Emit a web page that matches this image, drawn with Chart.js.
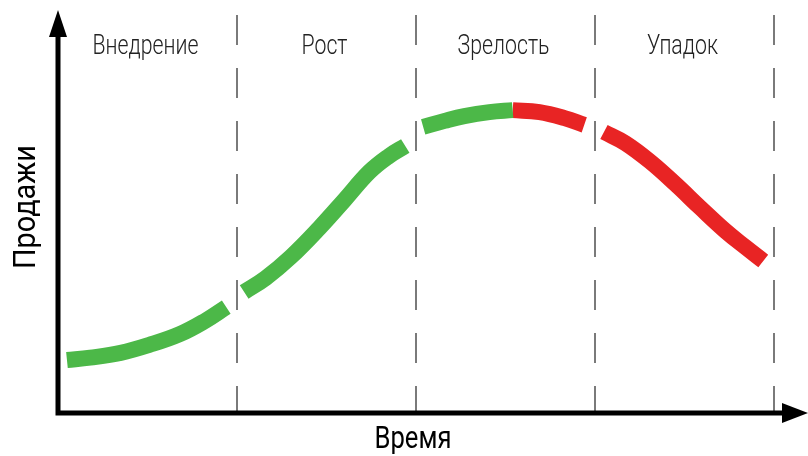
<!DOCTYPE html>
<html lang="ru">
<head>
<meta charset="UTF-8">
<title>Жизненный цикл товара</title>
<script src="https://cdn.jsdelivr.net/npm/chart.js@4.4.0/dist/chart.umd.min.js"></script>
<style>
  html, body { margin: 0; padding: 0; background: #fff; }
  #wrap { width: 808px; height: 456px; }
</style>
</head>
<body>
<div id="wrap"><canvas id="lifeChart"></canvas></div>
<script>
// этапы жизненного цикла (ось X в единицах этапов: 0..4)
const stages = ['Внедрение', 'Рост', 'Зрелость', 'Упадок'];
const stageBounds = [1, 2, 3, 4];

// кривая продаж, разбита на куски в местах пунктирных линий
const growthPart1 = [[0.05, 13.3], [0.18, 13.9], [0.35, 15.1], [0.51, 17.1], [0.68, 19.8], [0.82, 23.1], [0.94, 26.6]];
const growthPart2 = [[1.04, 30.4], [1.16, 33.9], [1.30, 39.2], [1.46, 46.5], [1.60, 53.5], [1.74, 60.6], [1.85, 64.6], [1.94, 67.1]];
const growthPart3 = [[2.04, 71.9], [2.16, 73.4], [2.27, 74.6], [2.41, 75.6], [2.54, 76.1]];
const declinePart1 = [[2.54, 76.1], [2.69, 75.6], [2.83, 74.1], [2.94, 72.4]];
const declinePart2 = [[3.05, 70.6], [3.17, 67.8], [3.31, 63.1], [3.45, 57.5], [3.59, 51.5], [3.73, 45.7], [3.84, 41.7], [3.94, 38.2]];

const xTitle = 'Время';
const yTitle = 'Продажи';

const GREEN = 'rgb(76, 184, 72)';
const RED = 'rgb(232, 36, 36)';
const FONT = 'Roboto, "Noto Sans", sans-serif';

function toPoints(arr) {
    return arr.map(p => ({ x: p[0], y: p[1] }));
}

function seg(arr, color) {
    return {
        data: toPoints(arr),
        borderColor: color,
        borderWidth: 16,
        borderCapStyle: 'butt',
        pointRadius: 0,
        showLine: true,
        fill: false,
        tension: 0.4
    };
}

// узкий текст: рисуем с горизонтальным сжатием
function narrowText(ctx, text, x, y, font, squeeze) {
    ctx.save();
    ctx.font = font;
    ctx.translate(x, y);
    ctx.scale(squeeze, 1);
    ctx.fillText(text, 0, 0);
    ctx.restore();
}

// пунктир, подписи этапов, оси со стрелками
const lifeCyclePlugin = {
    id: 'lifeCycle',
    beforeDatasetsDraw(chart) {
        const ctx = chart.ctx;
        const xs = chart.scales.x;
        const top = chart.chartArea.top;
        const bottom = chart.chartArea.bottom;
        ctx.save();
        ctx.strokeStyle = '#7a7a7a';
        ctx.lineWidth = 2;
        ctx.setLineDash([30, 23]);
        stageBounds.forEach(b => {
            const px = Math.round(xs.getPixelForValue(b));
            ctx.beginPath();
            ctx.moveTo(px, top);
            ctx.lineTo(px, bottom);
            ctx.stroke();
        });
        ctx.restore();
    },
    afterDraw(chart) {
        const ctx = chart.ctx;
        const xs = chart.scales.x;
        const area = chart.chartArea;
        const x0 = area.left;
        const y0 = area.bottom;
        ctx.save();

        // подписи этапов
        ctx.fillStyle = '#222';
        ctx.textAlign = 'center';
        ctx.textBaseline = 'middle';
        stages.forEach((s, i) => {
            narrowText(ctx, s, xs.getPixelForValue(i + 0.5) - 2, 47, '300 28px ' + FONT, 0.76);
        });

        // оси
        ctx.strokeStyle = '#000';
        ctx.fillStyle = '#000';
        ctx.lineWidth = 5;
        ctx.setLineDash([]);
        ctx.beginPath();
        ctx.moveTo(x0, y0 + 2.5);
        ctx.lineTo(x0, 30);
        ctx.moveTo(x0 - 2.5, y0);
        ctx.lineTo(790, y0);
        ctx.stroke();

        // стрелки
        ctx.beginPath();
        ctx.moveTo(x0, 10);
        ctx.lineTo(x0 - 9, 37);
        ctx.lineTo(x0 + 9, 37);
        ctx.closePath();
        ctx.fill();
        ctx.beginPath();
        ctx.moveTo(808, y0);
        ctx.lineTo(782, y0 - 10);
        ctx.lineTo(782, y0 + 10);
        ctx.closePath();
        ctx.fill();

        // названия осей
        ctx.textAlign = 'center';
        ctx.textBaseline = 'middle';
        narrowText(ctx, xTitle, 413, 440, '32px ' + FONT, 0.8);
        ctx.translate(27, 207);
        ctx.rotate(-Math.PI / 2);
        narrowText(ctx, yTitle, 0, 0, '32px ' + FONT, 0.9);
        ctx.restore();
    }
};

new Chart(document.getElementById('lifeChart'), {
    type: 'scatter',
    data: {
        datasets: [
            seg(growthPart1, GREEN),
            seg(growthPart2, GREEN),
            seg(growthPart3, GREEN),
            seg(declinePart1, RED),
            seg(declinePart2, RED)
        ]
    },
    options: {
        responsive: true,
        maintainAspectRatio: false,
        animation: false,
        layout: { padding: { left: 58, right: 34, top: 15, bottom: 43 } },
        scales: {
            x: { type: 'linear', min: 0, max: 4, display: false },
            y: { type: 'linear', min: 0, max: 100, display: false }
        },
        plugins: {
            legend: { display: false },
            tooltip: { enabled: false }
        }
    },
    plugins: [lifeCyclePlugin]
});
</script>
</body>
</html>
